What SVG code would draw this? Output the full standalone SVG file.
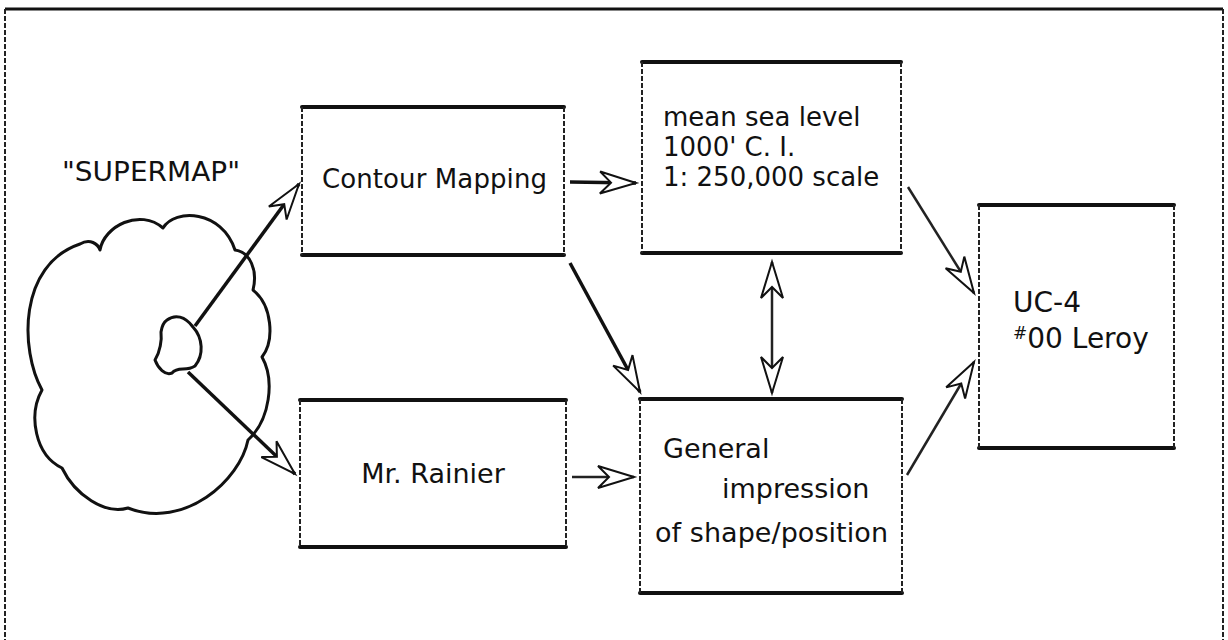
<svg xmlns="http://www.w3.org/2000/svg" width="1228" height="640" viewBox="0 0 1228 640">
  <style>
    .lbl { font-family: "DejaVu Sans", "Liberation Sans", sans-serif; fill: #111; }
    .edge-h { stroke: #111; stroke-width: 4; stroke-linecap: round; }
    .edge-v { stroke: #222; stroke-width: 2; stroke-dasharray: 5 2; }
    .wire { stroke: #111; stroke-width: 3.5; fill: none; }
    .wire-thin { stroke: #222; stroke-width: 2.5; fill: none; }
    .outline { fill: none; stroke: #111; stroke-width: 3; stroke-linejoin: round; stroke-linecap: round; }
  </style>
  <defs>
    <marker id="head" markerUnits="userSpaceOnUse" viewBox="-40 -14 44 28" refX="0" refY="0" markerWidth="44" markerHeight="28" orient="auto-start-reverse">
      <path d="M0,0 L-36,-11 L-25,0 L-36,11 Z" fill="#fff" stroke="#111" stroke-width="2" stroke-linejoin="miter"/>
    </marker>
  </defs>

  <rect width="1228" height="640" fill="#fff"/>

  <!-- page frame -->
  <g id="frame">
    <line x1="5" y1="9" x2="1223" y2="9" stroke="#111" stroke-width="3"/>
    <line x1="5" y1="9" x2="5" y2="640" class="edge-v" stroke-width="1.5"/>
    <line x1="1223" y1="9" x2="1223" y2="640" class="edge-v" stroke-width="1.5"/>
  </g>

  <!-- cloud with the central mountain -->
  <g id="supermap">
    <text class="lbl" x="62" y="181" font-size="27" textLength="178" lengthAdjust="spacingAndGlyphs">"SUPERMAP"</text>
    <path class="outline" d="M42,390 C20,350 18,265 80,244 C90,238 98,244 100,250 C104,226 140,208 163,228 C175,208 222,210 235,250 C250,252 258,270 253,290 C272,305 275,340 262,357 C275,380 270,420 248,440 C240,480 185,530 128,508 C105,515 75,495 62,468 C35,455 28,415 42,390 Z"/>
    <path class="outline" stroke-width="2.5" d="M167,320 C175,314 185,316 193,327 C203,338 204,355 195,366 C186,372 178,366 172,373 C165,376 158,368 155,360 C160,352 162,340 161,332 C162,325 164,322 167,320 Z"/>
  </g>

  <g id="contour-mapping">
    <line class="edge-h" x1="302" y1="107" x2="564" y2="107"/>
    <line class="edge-h" x1="302" y1="255" x2="564" y2="255"/>
    <line class="edge-v" x1="302" y1="107" x2="302" y2="255"/>
    <line class="edge-v" x1="564" y1="107" x2="564" y2="255"/>
    <text class="lbl" x="322" y="188" font-size="26" textLength="225">Contour Mapping</text>
  </g>

  <g id="mean-sea-level">
    <line class="edge-h" x1="642" y1="62" x2="901" y2="62"/>
    <line class="edge-h" x1="642" y1="253" x2="901" y2="253"/>
    <line class="edge-v" x1="642" y1="62" x2="642" y2="253"/>
    <line class="edge-v" x1="901" y1="62" x2="901" y2="253"/>
    <text class="lbl" x="663" y="126" font-size="26">mean sea level</text>
    <text class="lbl" x="663" y="156" font-size="26">1000' C. I.</text>
    <text class="lbl" x="663" y="186" font-size="26">1: 250,000 scale</text>
  </g>

  <g id="mt-rainier">
    <line class="edge-h" x1="300" y1="400" x2="566" y2="400"/>
    <line class="edge-h" x1="300" y1="547" x2="566" y2="547"/>
    <line class="edge-v" x1="300" y1="400" x2="300" y2="547"/>
    <line class="edge-v" x1="566" y1="400" x2="566" y2="547"/>
    <text class="lbl" x="433" y="483" font-size="27" text-anchor="middle">Mr. Rainier</text>
  </g>

  <g id="general-impression">
    <line class="edge-h" x1="640" y1="399" x2="902" y2="399"/>
    <line class="edge-h" x1="640" y1="593" x2="902" y2="593"/>
    <line class="edge-v" x1="640" y1="399" x2="640" y2="593"/>
    <line class="edge-v" x1="902" y1="399" x2="902" y2="593"/>
    <text class="lbl" x="663" y="458" font-size="27">General</text>
    <text class="lbl" x="722" y="498" font-size="27">impression</text>
    <text class="lbl" x="655" y="542" font-size="27" textLength="233">of shape/position</text>
  </g>

  <g id="uc-4">
    <line class="edge-h" x1="979" y1="205" x2="1174" y2="205"/>
    <line class="edge-h" x1="979" y1="448" x2="1174" y2="448"/>
    <line class="edge-v" x1="979" y1="205" x2="979" y2="448"/>
    <line class="edge-v" x1="1174" y1="205" x2="1174" y2="448"/>
    <text class="lbl" x="1013" y="312" font-size="28">UC-4</text>
    <text class="lbl" x="1013" y="348" font-size="28"><tspan font-size="17" dy="-9">#</tspan><tspan dy="9">00 Leroy</tspan></text>
  </g>

  <!-- connectors -->
  <g id="connectors">
    <line class="wire" x1="195" y1="326" x2="299" y2="184" marker-end="url(#head)"/>
    <line class="wire" x1="188" y1="372" x2="295" y2="474" marker-end="url(#head)"/>
    <line class="wire" x1="570" y1="182" x2="636" y2="183" marker-end="url(#head)"/>
    <line class="wire" x1="570" y1="263" x2="640" y2="392" marker-end="url(#head)"/>
    <line class="wire-thin" x1="772" y1="262" x2="772" y2="393" marker-start="url(#head)" marker-end="url(#head)"/>
    <line class="wire-thin" x1="572" y1="477" x2="634" y2="477" marker-end="url(#head)"/>
    <line class="wire-thin" x1="908" y1="187" x2="974" y2="293" marker-end="url(#head)"/>
    <line class="wire-thin" x1="907" y1="475" x2="974" y2="362" marker-end="url(#head)"/>
  </g>
</svg>
